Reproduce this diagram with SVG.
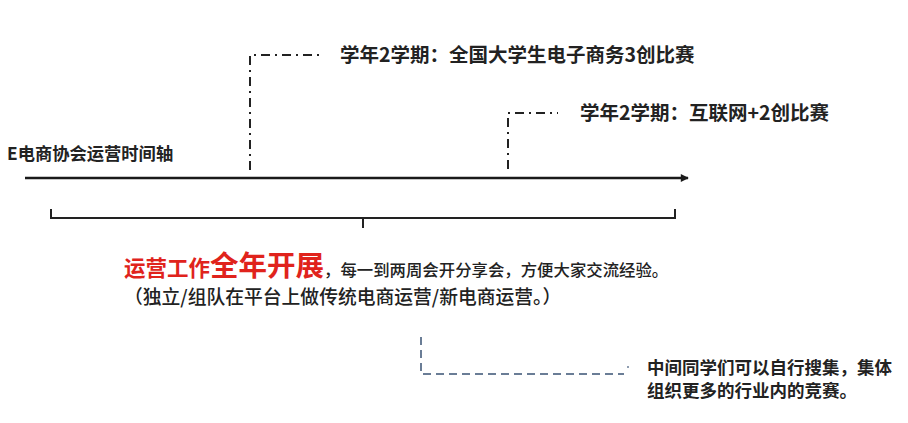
<svg xmlns="http://www.w3.org/2000/svg" width="908" height="423" viewBox="0 0 908 423">
<defs>
<marker id="arr" viewBox="0 0 10 10" refX="9" refY="5" markerWidth="9" markerHeight="8" markerUnits="userSpaceOnUse" orient="auto"><path d="M0,0 L10,5 L0,10 z" fill="#1a1a1a"/></marker>
<style>
text{font-family:"Noto Sans CJK SC","Noto Sans",sans-serif;fill:#222}
.b{font-weight:700}
.dd{fill:none;stroke:#222;stroke-width:2;stroke-dasharray:9 5 2 5}
.blue{fill:none;stroke:#6a7d96;stroke-width:2;stroke-dasharray:8 5}
.red{fill:#e0231c;font-weight:700}
</style>
</defs>
<rect width="908" height="423" fill="#fff"/>
<g id="connectors">
<line x1="25" y1="178" x2="688" y2="178" stroke="#1a1a1a" stroke-width="2.5" marker-end="url(#arr)"/>
<path class="dd" d="M250 170 L250 55 L320 55"/>
<path class="dd" d="M508 169 L508 113 L558 113"/>
<path d="M51 209 L51 218 L675 218 L675 209 M363 218 L363 228" fill="none" stroke="#222" stroke-width="2"/>
<path class="blue" d="M421 337 L421 374 L624 374"/>
<circle cx="628" cy="367" r="1" fill="#6a7d96"/>
</g>
<g id="axis-title"><text class="b" x="7" y="160" font-size="17.3">E电商协会运营时间轴</text></g>
<g id="event1"><text class="b" x="340" y="62" font-size="19.5">学年2学期：全国大学生电子商务3创比赛</text></g>
<g id="event2"><text class="b" x="580" y="120" font-size="19.5">学年2学期：互联网+2创比赛</text></g>
<g id="summary">
<text x="124" y="276" font-size="16.4"><tspan class="red" font-size="21.5">运营工作</tspan><tspan class="red" font-size="28.5">全年开展</tspan><tspan font-weight="500">，每一到两周会开分享会，方便大家交流经验。</tspan></text>
<text x="124" y="304" font-size="18.8" font-weight="500">（独立/组队在平台上做传统电商运营/新电商运营。）</text>
</g>
<g id="note">
<text class="b" x="647" y="374" font-size="17.5">中间同学们可以自行搜集，集体</text>
<text class="b" x="647" y="397" font-size="17.5">组织更多的行业内的竞赛。</text>
</g>
</svg>
